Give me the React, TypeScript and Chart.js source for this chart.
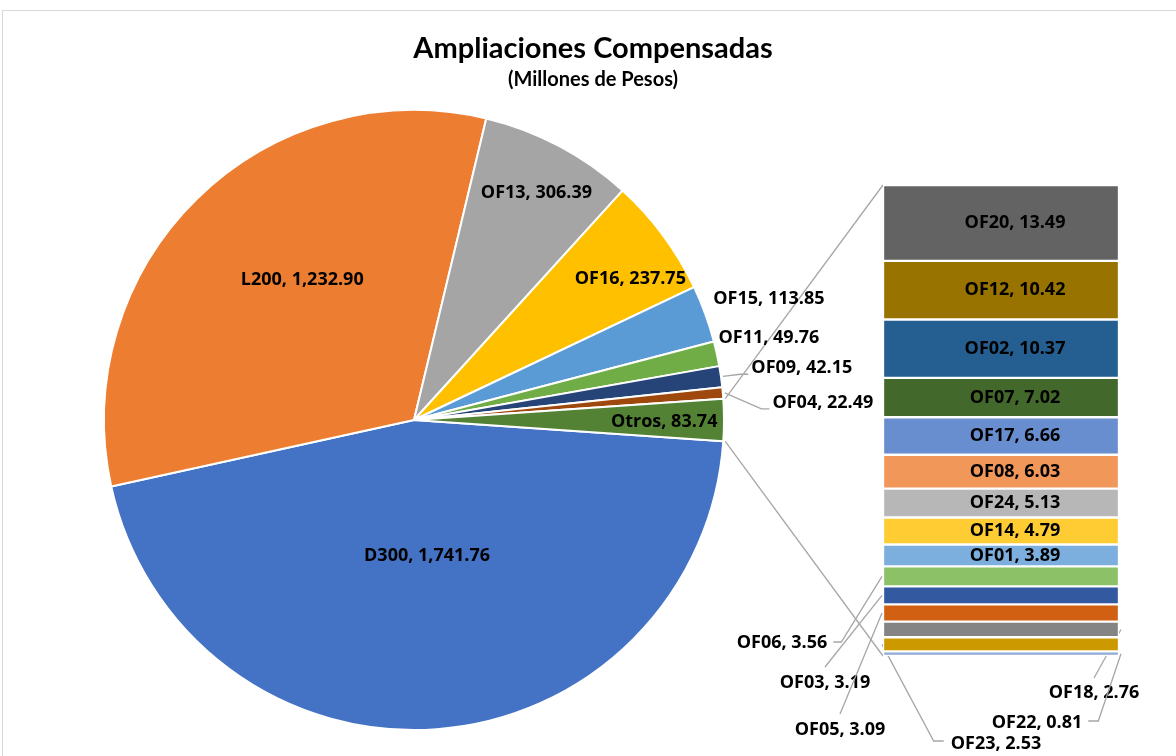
import React, { useEffect, useRef } from "react";
import { Chart, registerables } from "chart.js";

Chart.register(...registerables);

// ---------- DATA ----------
const pieLabels = ["D300", "L200", "OF13", "OF16", "OF15", "OF11", "OF09", "OF04", "Otros"];
const pieValues = [1741.76, 1232.9, 306.39, 237.75, 113.85, 49.76, 42.15, 22.49, 83.74];
const pieColors = ["#4472c4", "#ed7d31", "#a5a5a5", "#ffc000", "#5b9bd5", "#70ad47", "#264478", "#9e480e", "#548235"];

const barLabels = ["OF20", "OF12", "OF02", "OF07", "OF17", "OF08", "OF24", "OF14", "OF01", "OF06", "OF03", "OF05", "OF18", "OF23", "OF22"];
const barValues = [13.49, 10.42, 10.37, 7.02, 6.66, 6.03, 5.13, 4.79, 3.89, 3.56, 3.19, 3.09, 2.76, 2.53, 0.81];
const barColors = ["#636363", "#997300", "#255e91", "#43682b", "#698ed0", "#f1975a", "#b7b7b7", "#ffcd33", "#7cafdd", "#8cc168", "#335aa1", "#d26012", "#848484", "#cc9a00", "#8faadc"];

const titleText = "Ampliaciones Compensadas";
const subtitleText = "(Millones de Pesos)";

// ---------- STYLE / LAYOUT ----------
const PIE_LEFT = 3, PIE_TOP = 11, PIE_W = 1180, PIE_H = 760;
const BAR_LEFT = 883, BAR_TOP = 185, BAR_W = 236, BAR_H = 471;
const LABEL_FONT = 'bold 18px "Open Sans", "Noto Sans", sans-serif';
const TITLE_FONT = 'bold 29px Lato, "Open Sans", sans-serif';
const SUBTITLE_FONT = 'bold 20px Lato, "Open Sans", sans-serif';
const LINE_COLOR = "#a6a6a6";

// label placement for pie labels: [angle deg (clockwise from 3 o'clock), radius fraction, leader line]
const piePlace: [number, number, boolean][] = [
  [84.5, 0.439, false],
  [231.5, 0.579, false],
  [298.3, 0.833, false],
  [326.8, 0.834, false],
  [341.1, 1.21, false],
  [347.0, 1.175, false],
  [352.4, 1.262, true],
  [357.6, 1.32, true],
  [0.5, 0.807, false],
];

// outside labels of the bar: offsets of label centre from bar's bottom-left corner, leader kind
const barOutside: Record<string, { dx: number; dy: number; kind: string }> = {
  OF06: { dx: -101, dy: -13, kind: "leftElbowRight" },
  OF03: { dx: -58, dy: 27, kind: "leftTop" },
  OF05: { dx: -43, dy: 74, kind: "leftTop" },
  OF23: { dx: 113, dy: 88, kind: "leftElbowLeft" },
  OF18: { dx: 211, dy: 37, kind: "rightTop" },
  OF22: { dx: 154, dy: 67, kind: "rightElbowRight" },
};

const fmt = (v: number) =>
  v.toLocaleString("en-US", { minimumFractionDigits: 2, maximumFractionDigits: 2 });

function poly(ctx: CanvasRenderingContext2D, pts: number[][]) {
  ctx.beginPath();
  ctx.moveTo(pts[0][0], pts[0][1]);
  for (let i = 1; i < pts.length; i++) ctx.lineTo(pts[i][0], pts[i][1]);
  ctx.stroke();
}

export default function App() {
  const pieRef = useRef<HTMLCanvasElement>(null);
  const barRef = useRef<HTMLCanvasElement>(null);

  useEffect(() => {
    const barTotal = barValues.reduce((a, b) => a + b, 0);
    const barChart = new Chart(barRef.current!, {
      type: "bar",
      data: {
        labels: [""],
        datasets: barLabels.map((l, i) => ({
          label: l,
          data: [barValues[i]],
          backgroundColor: barColors[i],
          borderColor: "#ffffff",
          borderWidth: 1.5,
          borderSkipped: false,
          barPercentage: 1,
          categoryPercentage: 1,
        })),
      },
      options: {
        responsive: false,
        animation: false,
        events: [],
        layout: { padding: 0 },
        scales: {
          x: { stacked: true, display: false },
          y: { stacked: true, display: false, reverse: true, min: 0, max: barTotal },
        },
        plugins: { legend: { display: false }, tooltip: { enabled: false } },
      },
      plugins: [
        {
          id: "barInside",
          afterDatasetsDraw(chart: any) {
            const ctx = chart.ctx;
            ctx.save();
            ctx.font = LABEL_FONT;
            ctx.fillStyle = "#000";
            ctx.textAlign = "center";
            ctx.textBaseline = "middle";
            barLabels.forEach((name, i) => {
              if (barOutside[name]) return;
              const el: any = chart.getDatasetMeta(i).data[0];
              const cy = (el.y + el.base) / 2;
              ctx.fillText(`${name}, ${fmt(barValues[i])}`, el.x + 14, cy);
            });
            ctx.restore();
          },
        },
      ],
    } as any);

    const otrosDeg = (pieValues[pieValues.length - 1] / pieValues.reduce((a, b) => a + b, 0)) * 360;
    const offX = BAR_LEFT - PIE_LEFT, offY = BAR_TOP - PIE_TOP;

    const pieChart = new Chart(pieRef.current!, {
      type: "pie",
      data: {
        labels: pieLabels,
        datasets: [
          {
            data: pieValues,
            backgroundColor: pieColors,
            borderColor: "#ffffff",
            borderWidth: 2,
          },
        ],
      },
      options: {
        responsive: false,
        animation: false,
        events: [],
        rotation: 90 + otrosDeg / 2,
        layout: { padding: { left: 100, right: 458, top: 98, bottom: 40 } },
        plugins: {
          legend: { display: false },
          tooltip: { enabled: false },
        },
      },
      plugins: [
        {
          id: "titles",
          afterDraw(chart: any) {
            const ctx: CanvasRenderingContext2D = chart.ctx;
            ctx.save();
            ctx.fillStyle = "#000";
            ctx.textAlign = "center";
            ctx.textBaseline = "alphabetic";
            ctx.font = TITLE_FONT;
            ctx.fillText(titleText, chart.width / 2, 47);
            ctx.font = SUBTITLE_FONT;
            ctx.fillText(subtitleText, chart.width / 2, 75);
            ctx.restore();
          },
        },
        {
          id: "pieLabels",
          afterDatasetsDraw(chart: any) {
            const ctx: CanvasRenderingContext2D = chart.ctx;
            const arcs: any[] = chart.getDatasetMeta(0).data;
            const cx = arcs[0].x, cy = arcs[0].y, R = arcs[0].outerRadius;
            ctx.save();
            ctx.strokeStyle = LINE_COLOR;
            ctx.lineWidth = 1.3;

            // connector lines from "Otros" to the bar
            const otros = arcs[arcs.length - 1];
            const first: any = barChart.getDatasetMeta(0).data[0];
            const last: any = barChart.getDatasetMeta(barLabels.length - 1).data[0];
            const barLeft = offX + first.x - first.width / 2;
            const barTop = offY + Math.min(first.y, first.base);
            const barBottom = offY + Math.max(last.y, last.base);
            poly(ctx, [
              [cx + Math.cos(otros.startAngle) * (R + 2), cy + Math.sin(otros.startAngle) * (R + 2)],
              [barLeft, barTop],
            ]);
            poly(ctx, [
              [cx + Math.cos(otros.endAngle) * (R + 2), cy + Math.sin(otros.endAngle) * (R + 2)],
              [barLeft, barBottom],
            ]);

            ctx.font = LABEL_FONT;
            ctx.fillStyle = "#000";
            ctx.textAlign = "center";
            ctx.textBaseline = "middle";

            // pie labels
            pieLabels.forEach((name, i) => {
              const [deg, rf, leader] = piePlace[i];
              const a = (deg * Math.PI) / 180;
              const lx = cx + Math.cos(a) * R * rf;
              const ly = cy + Math.sin(a) * R * rf;
              const text = `${name}, ${fmt(pieValues[i])}`;
              if (leader) {
                const arc = arcs[i];
                const mid = (arc.startAngle + arc.endAngle) / 2;
                const sx = cx + Math.cos(mid) * (R + 2), sy = cy + Math.sin(mid) * (R + 2);
                const w = ctx.measureText(text).width;
                const left = lx - w / 2;
                poly(ctx, [[sx, sy], [left - 11, ly + 6], [left - 3, ly + 6]]);
              }
              ctx.fillText(text, lx, ly);
            });

            // bar outside labels
            barLabels.forEach((name, i) => {
              const p = barOutside[name];
              if (!p) return;
              const el: any = barChart.getDatasetMeta(i).data[0];
              const sl = offX + el.x - el.width / 2;
              const sr = offX + el.x + el.width / 2;
              const scy = offY + (el.y + el.base) / 2;
              const lcx = barLeft + p.dx, lcy = barBottom + p.dy;
              const text = `${name}, ${fmt(barValues[i])}`;
              const w = ctx.measureText(text).width;
              const ll = lcx - w / 2, lr = lcx + w / 2;
              if (p.kind === "leftElbowRight") poly(ctx, [[sl - 1, scy], [lr + 14, lcy - 1], [lr + 6, lcy - 1]]);
              else if (p.kind === "leftTop") poly(ctx, [[sl - 1, scy], [lcx, lcy - 16]]);
              else if (p.kind === "leftElbowLeft") poly(ctx, [[sl - 1, scy], [ll - 17, lcy - 3], [ll - 7, lcy - 3]]);
              else if (p.kind === "rightTop") poly(ctx, [[sr + 2, scy], [lcx, lcy - 15]]);
              else if (p.kind === "rightElbowRight") poly(ctx, [[sr + 2, scy], [lr + 16, lcy - 2], [lr + 6, lcy - 2]]);
              ctx.fillText(text, lcx, lcy);
            });
            ctx.restore();
          },
        },
      ],
    } as any);

    return () => {
      pieChart.destroy();
      barChart.destroy();
    };
  }, []);

  return (
    <div style={{ position: "fixed", left: 0, top: 0, width: 1176, height: 756, overflow: "hidden", background: "#fff" }}>
      <div
        style={{
          position: "absolute",
          left: PIE_LEFT - 1,
          top: PIE_TOP - 1,
          width: 1220,
          height: 800,
          border: "1px solid #d9d9d9",
        }}
      />
      <canvas
        ref={pieRef}
        width={PIE_W}
        height={PIE_H}
        style={{ position: "absolute", left: PIE_LEFT, top: PIE_TOP, width: PIE_W, height: PIE_H }}
      />
      <canvas
        ref={barRef}
        width={BAR_W}
        height={BAR_H}
        style={{ position: "absolute", left: BAR_LEFT, top: BAR_TOP, width: BAR_W, height: BAR_H }}
      />
    </div>
  );
}
